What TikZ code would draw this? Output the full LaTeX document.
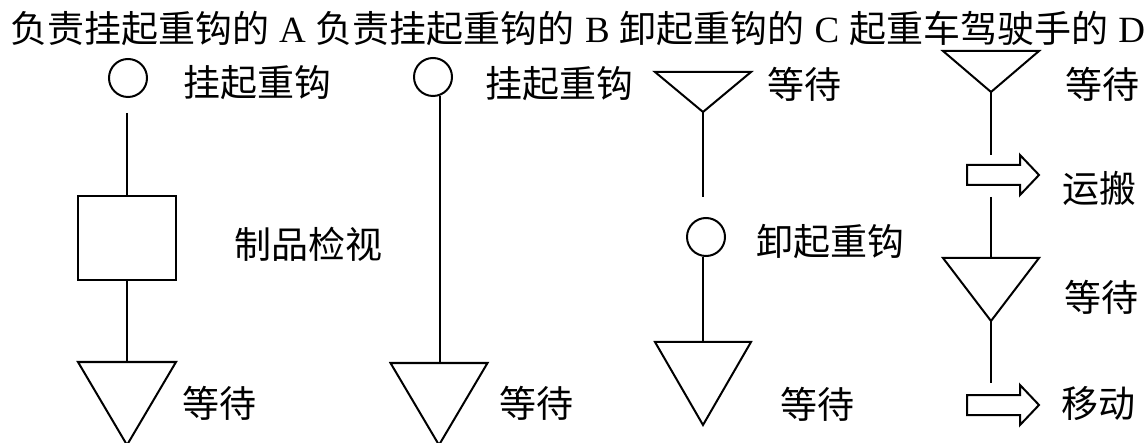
\documentclass[tikz,border=0pt]{standalone}
\usepackage{fontspec}
\setmainfont{Noto Sans CJK SC}
\newfontfamily\lat{Liberation Serif}
\usetikzlibrary{calc}
\newcommand\waittri[5]{% #1 name, #2 x, #3 top y, #4 apex y, #5 half width
  \coordinate (#1t) at (#2,#3);
  \coordinate (#1a) at (#2,#4);
  \draw[shp] (#2-#5,#3) -- (#2+#5,#3) -- (#1a) -- cycle;}
\begin{document}
\begin{tikzpicture}[x=1pt,y=-1pt,
  shp/.style={draw=black,line width=2pt,line join=miter},
  conn/.style={draw=black,line width=2pt},
  lbl/.style={inner sep=0pt,font=\fontsize{37}{40}\selectfont},
  hook/.style={shp,circle,minimum size=38pt,inner sep=0pt},
  work/.style={shp,rectangle,minimum width=98pt,minimum height=84pt,inner sep=0pt},
  barrow/.pic={\draw[shp] (-24,-10) -- (29,-10) -- (29,-20) -- (48,0) -- (29,20) -- (29,10) -- (-24,10) -- cycle;}
]
\useasboundingbox (0,0) rectangle (1148,443);

% title
\node[anchor=west,inner sep=0pt,font=\fontsize{37}{40}\selectfont] (title) at (10,29)
  {\hbox to 1135pt{负责挂起重钩的\hfil{\lat A}\hfil 负责挂起重钩的\hfil{\lat B}\hfil 卸起重钩的\hfil{\lat C}\hfil 起重车驾驶手的\hfil{\lat D}}};

% column A
\node[hook] (cA) at (128,78) {};
\coordinate (sA) at (127,113);
\node[work] (bA) at (127,238) {};
\waittri{tA}{127}{362}{445}{49}
\draw[conn] (sA) -- (bA.north);
\draw[conn] (bA.south) -- (tAt);
\node[lbl] (lA1) at (257,83) {挂起重钩};
\node[lbl] (lA2) at (308,244) {制品检视};
\node[lbl] (lA3) at (219,403) {等待};

% column B
\node[hook] (cB) at (433,77) {};
\waittri{tB}{439}{363}{445}{48.5}
\draw[conn] (cB.-71) -- (cB.-71 |- tBt);
\node[lbl] (lB1) at (559,84) {挂起重钩};
\node[lbl] (lB2) at (536,403) {等待};

% column C
\waittri{tC}{703}{72}{112}{48}
\coordinate (eC) at (703,197);
\node[hook] (cC) at (706,237) {};
\waittri{uC}{703}{342}{425}{48}
\draw[conn] (tCa) -- (eC);
\draw[conn] (uCt |- cC.south) -- (uCt);
\node[lbl] (lC1) at (804,84) {等待};
\node[lbl] (lC2) at (830,242) {卸起重钩};
\node[lbl] (lC3) at (817,404) {等待};

% column D
\waittri{tD}{991}{51}{92}{48}
\pic (aD1) at (991,175) {barrow};
\coordinate (eD1) at (991,155);
\coordinate (sD1) at (991,197);
\waittri{uD}{991}{258}{321}{48}
\pic (aD2) at (991,405) {barrow};
\coordinate (eD2) at (991,383);
\draw[conn] (tDa) -- (eD1);
\draw[conn] (sD1) -- (uDt);
\draw[conn] (uDa) -- (eD2);
\node[lbl] (lD1) at (1102,84) {等待};
\node[lbl] (lD2) at (1099,188) {运搬};
\node[lbl] (lD3) at (1101,297) {等待};
\node[lbl] (lD4) at (1098,404) {移动};
\end{tikzpicture}
\end{document}
